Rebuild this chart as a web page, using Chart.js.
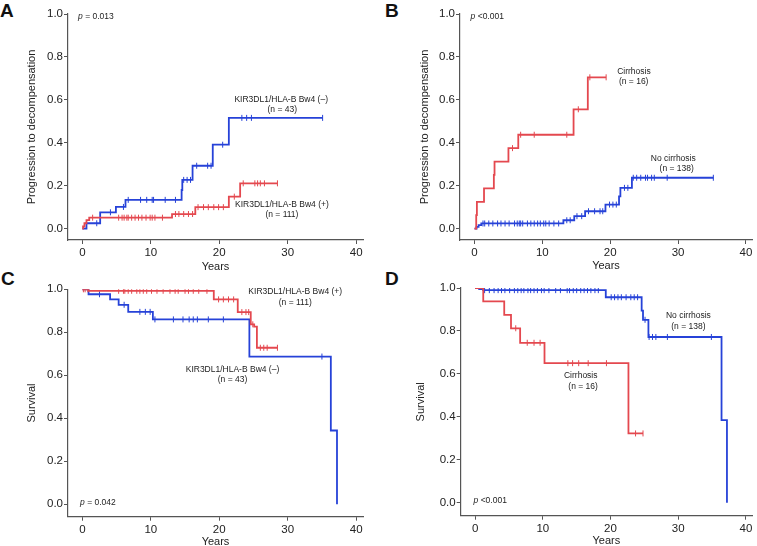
<!DOCTYPE html>
<html>
<head>
<meta charset="utf-8">
<script src="https://cdn.jsdelivr.net/npm/chart.js@4.4.1/dist/chart.umd.min.js"></script>
<style>
body { margin: 0; background: #fff; width: 757px; height: 546px; position: relative; overflow: hidden; font-family: "Liberation Sans", Arial, sans-serif; }
canvas { position: absolute; }
.tag { position: absolute; font-weight: bold; font-size: 19px; line-height: 1; color: #111; }
</style>
</head>
<body>
<div class="tag" style="left:0px;top:1px">A</div>
<div class="tag" style="left:385px;top:1px">B</div>
<div class="tag" style="left:1px;top:269px">C</div>
<div class="tag" style="left:385px;top:269px">D</div>
<canvas id="pA" width="378" height="282" style="left:0px;top:0px"></canvas>
<canvas id="pB" width="379" height="282" style="left:378px;top:0px"></canvas>
<canvas id="pC" width="378" height="282" style="left:0px;top:270px"></canvas>
<canvas id="pD" width="379" height="282" style="left:378px;top:270px"></canvas>
<script>
// tick labels
const xTicks = [0, 10, 20, 30, 40];
const yTicks = [0, 0.2, 0.4, 0.6, 0.8, 1.0];

// A: progression, KIR3DL1/HLA-B Bw4 (-) blue, (+) red
const aNegT = [0, 0.6, 2.6, 4.9, 6.3, 14.5, 14.6, 16.1, 19.05, 21.4, 35.1];
const aNegY = [0, 0.025, 0.076, 0.101, 0.134, 0.18, 0.227, 0.293, 0.391, 0.516, 0.516];
const aNegC = [2.1, 4.1, 6.0, 6.7, 8.5, 9.4, 10.2, 10.4, 12.1, 13.6, 14.8, 15.3, 15.8, 16.7, 18.3, 18.8, 20.5, 23.3, 24.0, 24.7, 35.1];
const aPosT = [0, 0.1, 0.3, 0.6, 1.0, 13.1, 16.5, 21.4, 23.05, 28.5];
const aPosY = [0, 0.01, 0.025, 0.04, 0.051, 0.068, 0.1, 0.149, 0.211, 0.211];
const aPosC = [1.5, 5.3, 5.8, 6.1, 6.5, 6.7, 7.2, 7.7, 8.2, 8.7, 9.3, 9.9, 10.2, 10.6, 11.7, 13.6, 14.1, 14.8, 15.5, 16.1, 16.9, 17.7, 18.4, 19.2, 19.9, 20.6, 22.2, 23.5, 25.2, 25.6, 26.0, 26.6, 28.5];

// B: progression, cirrhosis red, no cirrhosis blue
const bCirT = [0, 0.25, 0.35, 1.4, 2.85, 2.95, 5.0, 6.45, 14.6, 16.7, 19.4];
const bCirY = [0, 0.0625, 0.125, 0.1875, 0.25, 0.3125, 0.375, 0.4375, 0.556, 0.705, 0.705];
const bCirC = [5.6, 6.8, 8.8, 13.6, 15.3, 17.0, 19.4];
const bNoT = [0, 0.3, 0.6, 1.0, 13.1, 14.7, 16.3, 19.3, 21.3, 21.5, 23.2, 35.2];
const bNoY = [0, 0.008, 0.016, 0.024, 0.039, 0.058, 0.081, 0.112, 0.15, 0.19, 0.237, 0.237];
const bNoC = [1.25, 1.5, 2.1, 2.7, 3.4, 3.9, 4.5, 5.1, 5.9, 6.3, 6.6, 6.8, 7.1, 7.8, 8.3, 8.8, 9.3, 9.7, 10.2, 10.5, 11.0, 11.7, 12.4, 13.6, 14.1, 15.1, 15.8, 16.8, 17.7, 18.5, 18.9, 19.9, 20.4, 20.9, 22.1, 22.6, 23.4, 23.9, 24.5, 25.2, 25.5, 26.1, 26.5, 28.4, 35.2];

// C: survival, KIR (+) red, (-) blue
const cPosT = [0, 0.9, 19.2, 22.7, 24.6, 25.1, 25.5, 28.5];
const cPosY = [1, 0.993, 0.953, 0.894, 0.837, 0.826, 0.728, 0.728];
const cPosC = [0.15, 0.4, 0.8, 5.3, 6.0, 6.2, 6.7, 7.2, 7.95, 8.4, 8.9, 9.4, 10.1, 10.9, 11.8, 12.8, 13.55, 14.0, 15.0, 15.5, 16.2, 17.0, 18.2, 19.9, 20.6, 21.35, 22.1, 23.3, 23.9, 24.3, 24.9, 26.0, 26.5, 27.0, 28.5];
const cNegT = [0, 0.9, 4.05, 5.3, 6.7, 10.3, 24.4, 36.3, 37.2];
const cNegY = [1, 0.977, 0.953, 0.928, 0.895, 0.86, 0.687, 0.343, 0];
const cNegC = [2.5, 6.1, 8.4, 9.2, 9.9, 10.6, 13.3, 14.7, 15.6, 16.2, 16.8, 18.4, 20.6, 35.0];

// D: survival, no cirrhosis blue, cirrhosis red
const dNoT = [0, 0.6, 1.2, 19.3, 24.6, 24.8, 25.6, 36.4, 37.2];
const dNoY = [1, 0.995, 0.99, 0.957, 0.895, 0.852, 0.772, 0.385, 0];
const dNoC = [1.4, 2.1, 2.8, 3.4, 3.9, 4.4, 5.1, 5.8, 6.3, 6.8, 7.2, 7.8, 8.2, 8.7, 9.2, 9.8, 10.2, 10.9, 11.9, 12.6, 13.6, 13.95, 14.5, 15.0, 15.6, 16.1, 16.6, 17.1, 17.7, 18.2, 20.1, 20.6, 21.1, 21.6, 22.3, 23.0, 23.5, 24.0, 25.1, 25.7, 26.2, 26.7, 28.4, 34.9];
const dCirT = [0, 1.2, 4.3, 5.3, 6.65, 10.25, 22.65, 24.8];
const dCirY = [1, 0.9375, 0.875, 0.8125, 0.745, 0.65, 0.323, 0.323];
const dCirC = [6.0, 7.7, 8.7, 9.6, 13.7, 14.4, 15.3, 16.7, 19.4, 23.7, 24.8];

const BLUE = '#2642d8';
const RED = '#e4484f';
const AXIS = '#555';
const FONT = '"Liberation Sans", Arial, sans-serif';

// KM curve value at time t (last step at or before t)
function stepAt(ts, ys, t) {
    let v = ys[0];
    for (let i = 0; i < ts.length; i++) {
        if (ts[i] <= t + 1e-9) v = ys[i];
    }
    return v;
}

function notesPlugin(list) {
    return {
        id: 'notes',
        afterDatasetsDraw(chart) {
            const { ctx, scales: { x, y } } = chart;
            ctx.save();
            ctx.fillStyle = '#222';
            ctx.textBaseline = 'middle';
            list.forEach(n => {
                const px = x.getPixelForValue(n.x);
                const py = y.getPixelForValue(n.y);
                if (n.p) {
                    ctx.textAlign = 'left';
                    ctx.font = 'italic 8.5px ' + FONT;
                    ctx.fillText('p', px, py);
                    const w = ctx.measureText('p').width;
                    ctx.font = '8.5px ' + FONT;
                    ctx.fillText(n.text, px + w, py);
                } else {
                    ctx.textAlign = 'center';
                    ctx.font = '8.5px ' + FONT;
                    ctx.fillText(n.text, px, py);
                }
            });
            ctx.restore();
        }
    };
}

function makePanel(id, cfg) {
    const datasets = [];
    cfg.series.forEach(s => {
        datasets.push({
            data: s.t.map((t, i) => ({ x: t, y: s.y[i] })),
            borderColor: s.color,
            borderWidth: 1.8,
            stepped: true,
            pointRadius: 0,
            fill: false
        });
        datasets.push({
            data: s.c.map(t => ({ x: t, y: stepAt(s.t, s.y, t) })),
            showLine: false,
            pointStyle: 'line',
            rotation: 90,
            pointRadius: 3,
            borderColor: s.color,
            borderWidth: 1
        });
    });

    const h = document.getElementById(id).height;
    const w = document.getElementById(id).width;

    new Chart(document.getElementById(id), {
        type: 'line',
        data: { datasets: datasets },
        options: {
            responsive: false,
            animation: false,
            layout: { padding: { left: 0, top: cfg.top, right: w - cfg.right, bottom: 0 } },
            plugins: { legend: { display: false }, tooltip: { enabled: false } },
            scales: {
                x: {
                    type: 'linear',
                    min: cfg.xMin,
                    max: cfg.xMax,
                    afterFit: s => { s.height = h - cfg.bottom; },
                    afterBuildTicks: ax => { ax.ticks = xTicks.map(v => ({ value: v })); },
                    grid: { drawOnChartArea: false, tickLength: 4, color: AXIS },
                    border: { color: AXIS, width: 1.2 },
                    ticks: { font: { family: FONT, size: 11.5 }, color: '#222', padding: 2, maxRotation: 0 },
                    title: { display: true, text: 'Years', font: { family: FONT, size: 11 }, color: '#222',
                             padding: { top: 0, bottom: h - cfg.xTitleY - 6.6 } }
                },
                y: {
                    type: 'linear',
                    min: cfg.yMin,
                    max: 1,
                    afterFit: s => { s.width = cfg.left; },
                    afterBuildTicks: ax => { ax.ticks = yTicks.map(v => ({ value: v })); },
                    grid: { drawOnChartArea: false, tickLength: 4, color: AXIS },
                    border: { color: AXIS, width: 1.2 },
                    ticks: { font: { family: FONT, size: 11.5 }, color: '#222', padding: 1,
                             callback: v => v.toFixed(1) },
                    title: { display: true, text: cfg.yTitle, font: { family: FONT, size: 11 }, color: '#222',
                             padding: { top: cfg.yTitleX - 6.6, bottom: 0 } }
                }
            }
        },
        plugins: [notesPlugin(cfg.notes)]
    });
}

makePanel('pA', {
    left: 68, top: 14, right: 363, bottom: 240,
    xMin: -2.1, xMax: 41, yMin: -0.053,
    yTitle: 'Progression to decompensation', yTitleX: 32, xTitleY: 267,
    series: [
        { t: aPosT, y: aPosY, c: aPosC, color: RED },
        { t: aNegT, y: aNegY, c: aNegC, color: BLUE }
    ],
    notes: [
        { text: ' = 0.013', x: -0.63, y: 0.987, p: true },
        { text: 'KIR3DL1/HLA-B Bw4 (\u2013)', x: 29.05, y: 0.599 },
        { text: '(n = 43)', x: 29.2, y: 0.553 },
        { text: 'KIR3DL1/HLA-B Bw4 (+)', x: 29.15, y: 0.114 },
        { text: '(n = 111)', x: 29.15, y: 0.064 }
    ]
});

makePanel('pB', {
    left: 82, top: 14, right: 378, bottom: 240,
    xMin: -2.14, xMax: 40.9, yMin: -0.053,
    yTitle: 'Progression to decompensation', yTitleX: 46.7, xTitleY: 265.7,
    series: [
        { t: bCirT, y: bCirY, c: bCirC, color: RED },
        { t: bNoT, y: bNoY, c: bNoC, color: BLUE }
    ],
    notes: [
        { text: ' <0.001', x: -0.58, y: 0.987, p: true },
        { text: 'Cirrhosis', x: 23.5, y: 0.731 },
        { text: '(n = 16)', x: 23.46, y: 0.685 },
        { text: 'No cirrhosis', x: 29.3, y: 0.328 },
        { text: '(n = 138)', x: 29.8, y: 0.281 }
    ]
});

makePanel('pC', {
    left: 68, top: 19.3, right: 363, bottom: 246.7,
    xMin: -2.1, xMax: 41, yMin: -0.058,
    yTitle: 'Survival', yTitleX: 32, xTitleY: 271.7,
    series: [
        { t: cPosT, y: cPosY, c: cPosC, color: RED },
        { t: cNegT, y: cNegY, c: cNegC, color: BLUE }
    ],
    notes: [
        { text: ' = 0.042', x: -0.34, y: 0.007, p: true },
        { text: 'KIR3DL1/HLA-B Bw4 (+)', x: 31.1, y: 0.989 },
        { text: '(n = 111)', x: 31.1, y: 0.94 },
        { text: 'KIR3DL1/HLA-B Bw4 (\u2013)', x: 21.93, y: 0.628 },
        { text: '(n = 43)', x: 21.93, y: 0.581 }
    ]
});

makePanel('pD', {
    left: 82.7, top: 18, right: 378, bottom: 245.7,
    xMin: -2.13, xMax: 40.9, yMin: -0.06,
    yTitle: 'Survival', yTitleX: 43.3, xTitleY: 270.7,
    series: [
        { t: dCirT, y: dCirY, c: dCirC, color: RED },
        { t: dNoT, y: dNoY, c: dNoC, color: BLUE }
    ],
    notes: [
        { text: ' <0.001', x: -0.23, y: 0.008, p: true },
        { text: 'No cirrhosis', x: 31.5, y: 0.87 },
        { text: '(n = 138)', x: 31.5, y: 0.82 },
        { text: 'Cirrhosis', x: 15.6, y: 0.59 },
        { text: '(n = 16)', x: 15.95, y: 0.54 }
    ]
});
</script>
</body>
</html>
